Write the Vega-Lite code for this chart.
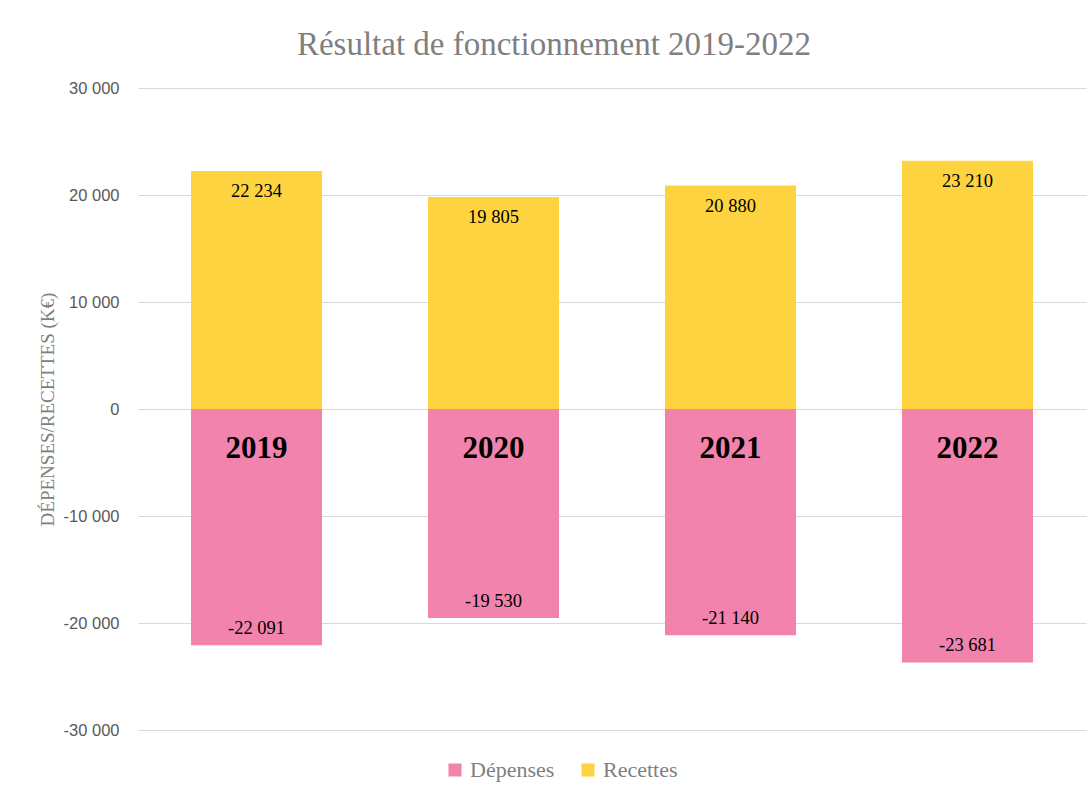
{
  "$schema": "https://vega.github.io/schema/vega-lite/v6.json",
  "width": 948,
  "height": 642,
  "autosize": "none",
  "padding": {"left": 138, "top": 88, "right": 2, "bottom": 61},
  "background": "white",
  "title": {
    "text": "Résultat de fonctionnement 2019-2022",
    "font": "'Liberation Serif', serif",
    "fontSize": 33,
    "fontWeight": "normal",
    "color": "#7f7f7f",
    "anchor": "middle",
    "frame": "group",
    "dx": -58,
    "offset": 18
  },
  "config": {
    "locale": {"number": {"decimal": ",", "thousands": " ", "grouping": [3], "currency": ["", " €"], "minus": "-"}},
    "view": {"stroke": null}
  },
  "data": {
    "values": [
      {"annee": "2019", "type": "Recettes", "valeur": 22234},
      {"annee": "2020", "type": "Recettes", "valeur": 19805},
      {"annee": "2021", "type": "Recettes", "valeur": 20880},
      {"annee": "2022", "type": "Recettes", "valeur": 23210},
      {"annee": "2019", "type": "Dépenses", "valeur": -22091},
      {"annee": "2020", "type": "Dépenses", "valeur": -19530},
      {"annee": "2021", "type": "Dépenses", "valeur": -21140},
      {"annee": "2022", "type": "Dépenses", "valeur": -23681}
    ]
  },
  "encoding": {
    "x": {
      "field": "annee",
      "type": "nominal",
      "axis": null,
      "scale": {"paddingInner": 0.447, "paddingOuter": 0.2235}
    }
  },
  "layer": [
    {
      "mark": {"type": "bar"},
      "encoding": {
        "y": {
          "field": "valeur",
          "type": "quantitative",
          "scale": {"domain": [-30000, 30000], "nice": false},
          "axis": {
            "values": [-30000, -20000, -10000, 0, 10000, 20000, 30000],
            "format": ",d",
            "title": "DÉPENSES/RECETTES (K€)",
            "titleFont": "'Liberation Serif', serif",
            "titleFontSize": 19,
            "titleFontWeight": "normal",
            "titleColor": "#7f7f7f",
            "titlePadding": 6,
            "labelFont": "Liberation Sans",
            "labelFontSize": 16.5,
            "labelColor": "#595959",
            "labelPadding": 19,
            "ticks": false,
            "domain": false,
            "grid": true,
            "gridColor": "#d9d9d9",
            "gridWidth": 1
          }
        },
        "color": {
          "field": "type",
          "type": "nominal",
          "scale": {"domain": ["Dépenses", "Recettes"], "range": ["#F283AC", "#FDD43F"]},
          "legend": {
            "title": null,
            "orient": "none",
            "direction": "horizontal",
            "legendX": 306,
            "legendY": 671,
            "symbolType": "square",
            "symbolSize": 170,
            "symbolStrokeWidth": 0,
            "labelFont": "'Liberation Serif', serif",
            "labelFontSize": 22,
            "labelColor": "#7f7f7f",
            "columnPadding": 22,
            "labelOffset": 4
          }
        }
      }
    },
    {
      "transform": [{"filter": "datum.type === 'Recettes'"}],
      "mark": {"type": "text", "font": "Liberation Serif", "fontSize": 18.5, "color": "#000000", "dy": 20, "baseline": "middle"},
      "encoding": {
        "y": {"field": "valeur", "type": "quantitative"},
        "text": {"field": "valeur", "type": "quantitative", "format": ",d"}
      }
    },
    {
      "transform": [{"filter": "datum.type === 'Dépenses'"}],
      "mark": {"type": "text", "font": "Liberation Serif", "fontSize": 18.5, "color": "#000000", "dy": -17, "baseline": "middle"},
      "encoding": {
        "y": {"field": "valeur", "type": "quantitative"},
        "text": {"field": "valeur", "type": "quantitative", "format": ",d"}
      }
    },
    {
      "transform": [{"filter": "datum.type === 'Dépenses'"}],
      "mark": {"type": "text", "font": "Liberation Serif", "fontSize": 31, "fontWeight": "bold", "color": "#000000", "dy": 40, "baseline": "middle"},
      "encoding": {
        "y": {"datum": 0, "type": "quantitative"},
        "text": {"field": "annee", "type": "nominal"}
      }
    }
  ]
}
